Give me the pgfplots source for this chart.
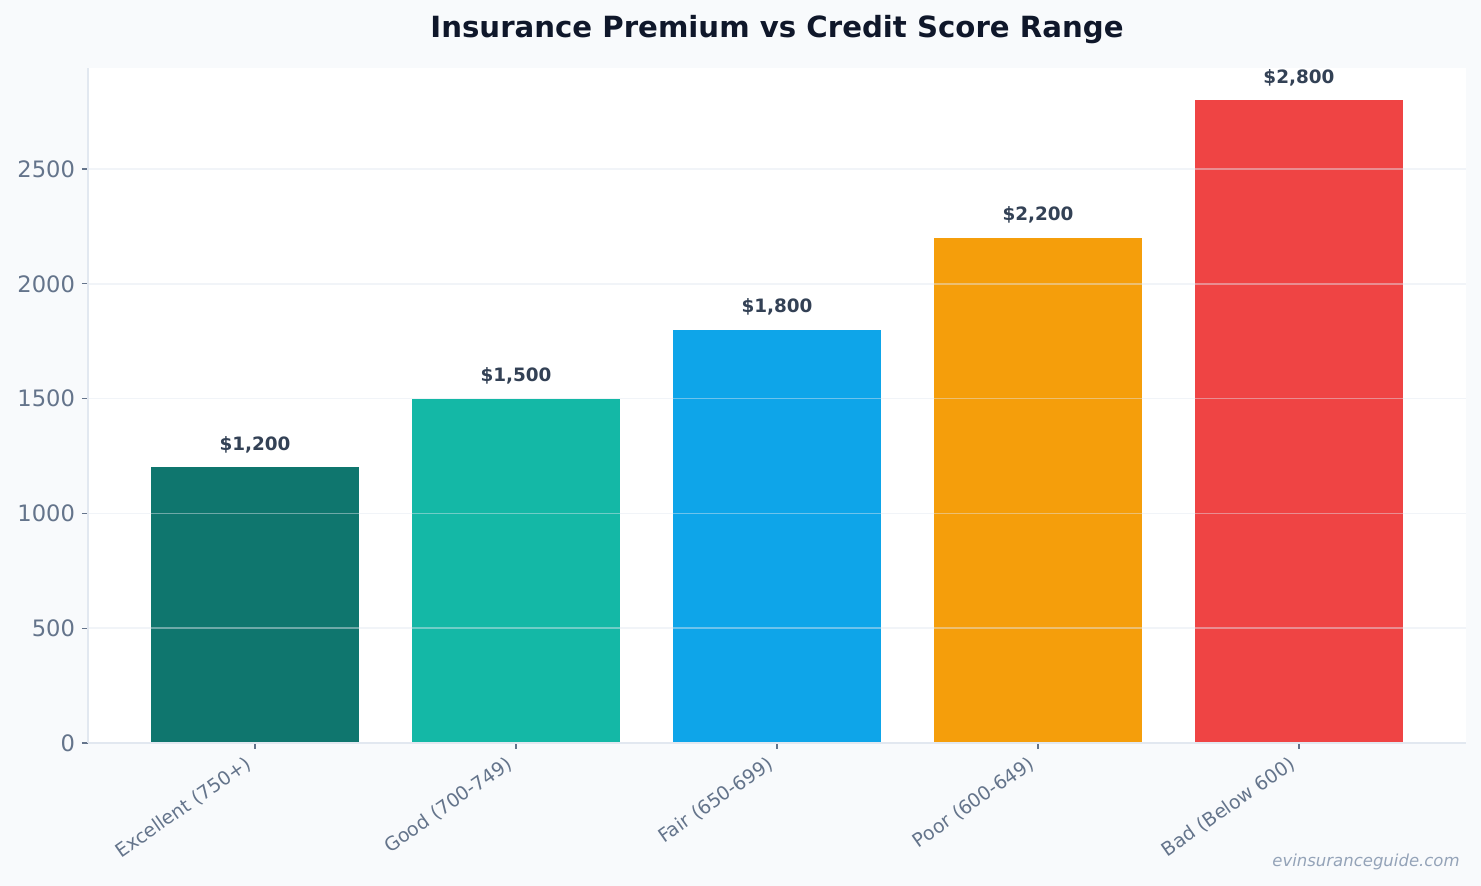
\documentclass[border=0pt]{standalone}
\usepackage{fontspec}
\setmainfont{DejaVu Sans}
\usepackage{pgfplots}
\pgfplotsset{compat=1.18}

\definecolor{bgpage}{HTML}{F8FAFC}
\definecolor{spine}{HTML}{E2E8F0}
\definecolor{ticktxt}{HTML}{64748B}
\definecolor{titletxt}{HTML}{0F172A}
\definecolor{valtxt}{HTML}{334155}
\definecolor{marktxt}{HTML}{94A3B8}
\definecolor{cExc}{HTML}{0F766E}
\definecolor{cGood}{HTML}{14B8A6}
\definecolor{cFair}{HTML}{0EA5E9}
\definecolor{cPoor}{HTML}{F59E0B}
\definecolor{cBad}{HTML}{EF4444}

\begin{document}
\begin{tikzpicture}
% page background, 1px = 0.5pt
\fill[bgpage] (-44pt,-71.5pt) rectangle (696.5pt,371.5pt);
\begin{axis}[
    scale only axis,
    width=689pt, height=337.5pt,
    xmin=-0.64, xmax=4.64,
    ymin=0, ymax=2940,
    ybar, bar width=0.8, bar shift=0pt,
    axis background/.style={fill=white},
    axis x line*=bottom, axis y line*=left,
    axis line style={draw=spine, line width=0.8pt, -},
    axis on top,
    ymajorgrids, grid style={draw=spine, opacity=0.45, line width=0.7pt},
    xtick={0,1,2,3,4},
    xticklabels={Excellent (750+), Good (700-749), Fair (650-699), Poor (600-649), Bad (Below 600)},
    ytick={0,500,1000,1500,2000,2500},
    tick align=outside, major tick length=3pt,
    tick style={draw=ticktxt, line width=0.6pt},
    /pgf/number format/assume math mode=true,
    yticklabel={\pgfmathprintnumber[1000 sep={}]{\tick}},
    scaled y ticks=false,
    yticklabel style={font=\fontsize{11.3}{13}\selectfont, text=ticktxt},
    xticklabel style={font=\fontsize{9.5}{11}\selectfont, text=ticktxt, xshift=-5pt, rotate=35, anchor=north east, inner sep=2pt},
    title={Insurance Premium vs Credit Score Range},
    title style={font=\bfseries\fontsize{14.6}{18}\selectfont, text=titletxt, at={(0.5,1)}, anchor=base, yshift=9pt},
    point meta=y,
    nodes near coords={\$\pgfmathprintnumber[1000 sep={,}]{\pgfplotspointmeta}},
    every node near coord/.append style={font=\bfseries\fontsize{9.2}{11}\selectfont, text=valtxt, anchor=base, yshift=8.5pt},
]
\addplot[fill=cExc, draw=none] coordinates {(0,1200)};
\addplot[fill=cGood, draw=none] coordinates {(1,1500)};
\addplot[fill=cFair, draw=none] coordinates {(2,1800)};
\addplot[fill=cPoor, draw=none] coordinates {(3,2200)};
\addplot[fill=cBad, draw=none] coordinates {(4,2800)};
\end{axis}
\node[anchor=base east, font=\itshape\fontsize{8.25}{10}\selectfont, text=marktxt, inner sep=0pt] at (686pt,-62pt) {evinsuranceguide.com};
\end{tikzpicture}
\end{document}
